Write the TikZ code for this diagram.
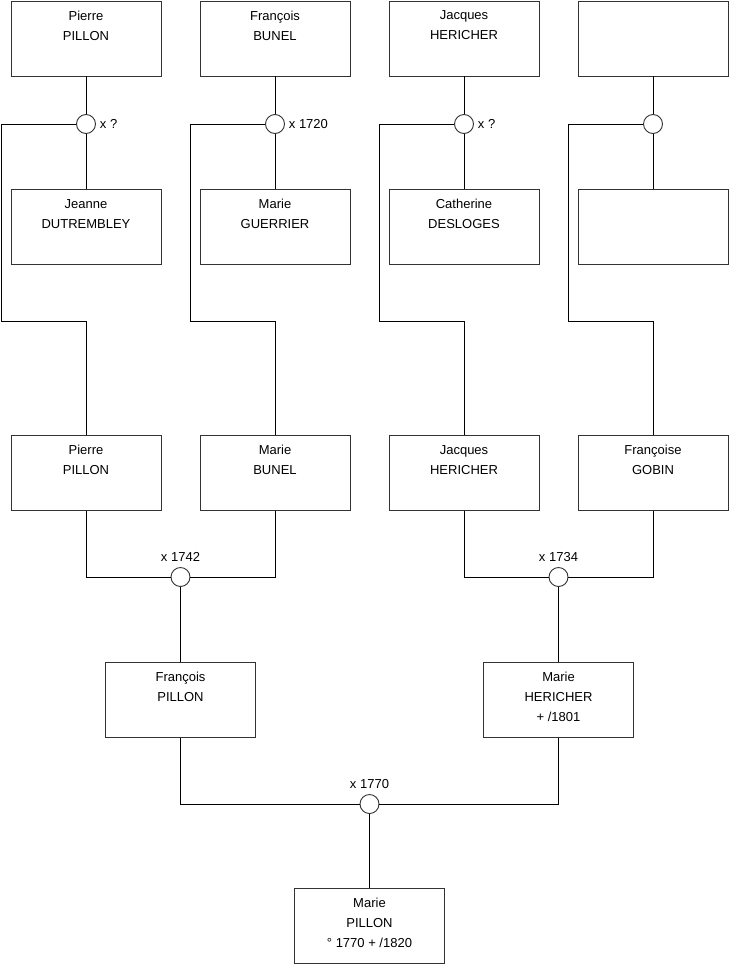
\documentclass[tikz,border=0pt]{standalone}
\usepackage{fontspec}
\setmainfont{Liberation Sans}
\usetikzlibrary{positioning}

\definecolor{frame}{HTML}{333333}

\begin{document}
\begin{tikzpicture}[x=1pt, y=-1pt, line width=0.9pt,
  person/.style={draw=frame, fill=white, minimum width=150pt, minimum height=75pt,
    inner sep=0pt, align=center, font=\fontsize{13}{20}\selectfont},
  wed/.style={draw=frame, fill=white, circle, minimum size=19pt, inner sep=0pt},
  wedlabel/.style={inner sep=2pt, font=\fontsize{13}{16}\selectfont},
  link/.style={draw=black}]

\useasboundingbox (0,0) rectangle (740,975);

% Great-grandparents
\node[person] (pp) at (86,38.5) {Pierre\\PILLON\\\strut};
\node[person] (fb) at (275,38.5) {François\\BUNEL\\\strut};
\node[person] (jh) at (464,38.5) {Jacques\\HERICHER\\\strut};
\node[person] (ua) at (653,38.5) {};

\node[wed] (c1) at (86,124) {};
\node[wed] (c2) at (275,124) {};
\node[wed] (c3) at (464,124) {};
\node[wed] (c4) at (653,124) {};
\node[wedlabel, right=1.5pt of c1] (x1) {x ?};
\node[wedlabel, right=1.5pt of c2] (x2) {x 1720};
\node[wedlabel, right=1.5pt of c3] (x3) {x ?};

\node[person] (jd) at (86,227) {Jeanne\\DUTREMBLEY\\\strut};
\node[person] (mg) at (275,227) {Marie\\GUERRIER\\\strut};
\node[person] (cd) at (464,227) {Catherine\\DESLOGES\\\strut};
\node[person] (ub) at (653,227) {};

% Grandparents
\node[person] (pp2) at (86,473) {Pierre\\PILLON\\\strut};
\node[person] (mb) at (275,473) {Marie\\BUNEL\\\strut};
\node[person] (jh2) at (464,473) {Jacques\\HERICHER\\\strut};
\node[person] (fg) at (653,473) {Françoise\\GOBIN\\\strut};

\node[wed] (m1) at (180.5,577) {};
\node[wed] (m2) at (558.5,577) {};
\node[wedlabel, above=3pt of m1] (x4) {x 1742};
\node[wedlabel, above=3pt of m2] (x5) {x 1734};

% Parents
\node[person] (fp) at (180.5,700) {François\\PILLON\\\strut};
\node[person] (mh) at (558.5,700) {Marie\\HERICHER\\+ /1801\strut};

\node[wed] (m3) at (369.5,804) {};
\node[wedlabel, above=3pt of m3] (x6) {x 1770};

\node[person] (mp) at (369.5,926) {Marie\\PILLON\\° 1770 + /1820\strut};

% Links
\draw[link] (pp) -- (c1) -- (jd);
\draw[link] (fb) -- (c2) -- (mg);
\draw[link] (jh) -- (c3) -- (cd);
\draw[link] (ua) -- (c4) -- (ub);

\draw[link] (c1.west) -| ++(-75,197) -| (pp2.north);
\draw[link] (c2.west) -| ++(-75,197) -| (mb.north);
\draw[link] (c3.west) -| ++(-75,197) -| (jh2.north);
\draw[link] (c4.west) -| ++(-75,197) -| (fg.north);

\draw[link] (pp2.south) |- (m1.west);
\draw[link] (m1.east) -| (mb.south);
\draw[link] (jh2.south) |- (m2.west);
\draw[link] (m2.east) -| (fg.south);
\draw[link] (m1) -- (fp);
\draw[link] (m2) -- (mh);

\draw[link] (fp.south) |- (m3.west);
\draw[link] (m3.east) -| (mh.south);
\draw[link] (m3) -- (mp);

\end{tikzpicture}
\end{document}
